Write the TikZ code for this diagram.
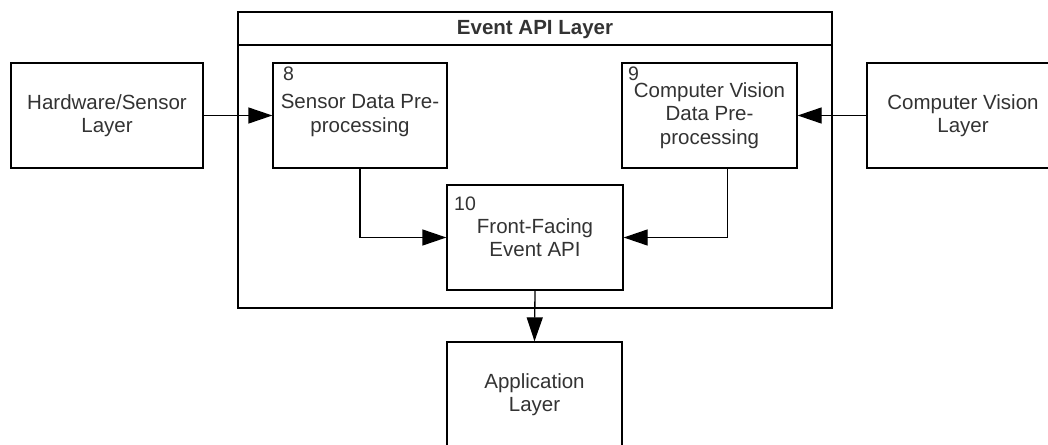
\documentclass[tikz,border=0pt]{standalone}
\usepackage{fontspec}
\setmainfont{Liberation Sans}
\usetikzlibrary{arrows.meta,positioning}
\definecolor{txt}{HTML}{333333}
\begin{document}
\begin{tikzpicture}[x=1pt,y=-1pt,
  box/.style={draw=black,line width=1.3pt,fill=white,inner sep=0pt,align=center,
    font=\fontsize{20.5}{23.5}\selectfont,text=txt},
  num/.style={anchor=north west,inner sep=0pt,font=\fontsize{19.5}{21}\selectfont,text=txt},
  conn/.style={draw=black,line width=1.3pt,-{Triangle[length=24pt,width=16pt]}}]
\useasboundingbox (0,0) rectangle (1048,444);
\clip (0,0) rectangle (1048,444);
% container
\node[draw=black,line width=1.3pt,minimum width=594pt,minimum height=296pt,inner sep=0pt] (cont) at (535,160) {};
\coordinate (tl) at (238,45);
\coordinate (tr) at (832,45);
\draw[line width=1.3pt] (tl) -- (tr);
\node[font=\bfseries\fontsize{20.5}{23}\selectfont,text=txt] (title) at (535,29.5) {Event API Layer};
% boxes
\node[box,minimum width=192pt,minimum height=105pt] (hw) at (107,115.5) {Hardware/Sensor\\Layer};
\node[box,minimum width=174pt,minimum height=105pt] (sens) at (360,115.5) {Sensor Data Pre-\\processing};
\node[box,minimum width=175pt,minimum height=105pt] (cvd) at (709.5,115.5) {Computer Vision\\Data Pre-\\processing};
\node[box,minimum width=192pt,minimum height=105pt] (cvl) at (963,115.5) {Computer Vision\\Layer};
\node[box,minimum width=176pt,minimum height=105pt] (ff) at (535,237.5) {Front-Facing\\Event API};
\node[box,minimum width=175pt,minimum height=105pt] (app) at (534.5,394.5) {Application\\Layer};
% numbers
\node[num] (n8) at (283,67) {8};
\node[num] (n9) at (628,67) {9};
\node[num] (n10) at (454,197) {10};
% connectors
\draw[conn] (hw.east) -- (sens.west);
\draw[conn] (cvl.west) -- (cvd.east);
\draw[conn] (sens.south) |- (ff.west);
\draw[conn] ([xshift=18pt]cvd.south) |- (ff.east);
\draw[conn] (ff.south) -- (app.north);
\end{tikzpicture}
\end{document}
